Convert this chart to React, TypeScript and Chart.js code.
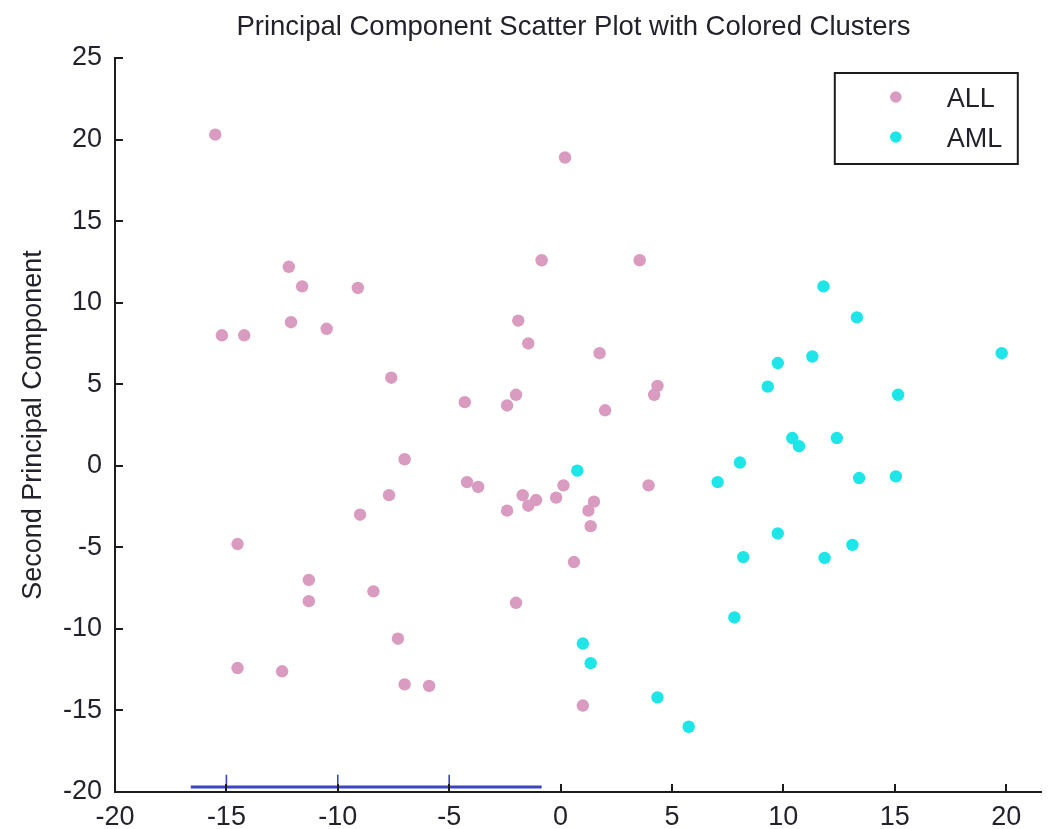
import React, { useEffect, useRef } from "react";
import { Chart, registerables } from "chart.js";

Chart.register(...registerables);

const TITLE = "Principal Component Scatter Plot with Colored Clusters";
const Y_TITLE = "Second Principal Component";
const SERIES_NAMES = ["ALL", "AML"];

const X_TICKS = [-20, -15, -10, -5, 0, 5, 10, 15, 20];
const Y_TICKS = [-20, -15, -10, -5, 0, 5, 10, 15, 20, 25];
const X_MIN = -20;
const X_MAX = 21.6;
const Y_MIN = -20;
const Y_MAX = 25;

const ALL_X = [
  -15.5, -12.2, -11.6, -9.1, -12.1, -10.5, -15.2, -14.2, -7.6, -7.0,
  -7.7, -9.0, -14.5, -11.3, -11.3, -8.4, -7.3, -14.5, -12.5, -7.0,
  -5.9, 0.2, -0.85, 3.55, -1.9, -1.45, 1.75, 4.35, 4.2, -4.3,
  -2.0, -2.4, 2.0, -4.2, -3.7, 3.95, 0.13, -0.2, -1.7, -1.1,
  -1.45, -2.4, 1.5, 1.25, 1.35, 0.6, -2.0, 1.0,
];
const ALL_Y = [
  20.3, 12.2, 11.0, 10.9, 8.8, 8.4, 8.0, 8.0, 5.4, 0.4,
  -1.8, -3.0, -4.8, -7.0, -8.3, -7.7, -10.6, -12.4, -12.6, -13.4,
  -13.5, 18.9, 12.6, 12.6, 8.9, 7.5, 6.9, 4.9, 4.35, 3.9,
  4.35, 3.7, 3.4, -1.0, -1.3, -1.2, -1.2, -1.95, -1.8, -2.1,
  -2.45, -2.75, -2.2, -2.75, -3.7, -5.9, -8.4, -14.7,
];

const AML_X = [
  0.75, 1.0, 1.35, 4.35, 5.75, 11.8, 13.3, 11.3, 9.75, 9.3,
  15.15, 10.4, 10.7, 12.4, 8.05, 7.05, 13.4, 15.05, 9.75, 8.2,
  11.85, 13.1, 7.8, 19.8,
];
const AML_Y = [
  -0.3, -10.9, -12.1, -14.2, -16.0, 11.0, 9.1, 6.7, 6.3, 4.85,
  4.35, 1.7, 1.2, 1.7, 0.2, -1.0, -0.75, -0.65, -4.15, -5.6,
  -5.65, -4.85, -9.3, 6.9,
];

// stray blue underline visible in the source image (data units)
const STROKE_X = [-16.6, -0.85];
const STROKE_Y = -19.7;
const STROKE_TICK_X = [-15, -10, -5];
const STROKE_TICK_TOP = -18.95;

const PINK = "#d99bbf";
const CYAN = "#1ee6e8";
const TEXT = "#22222c";
const AXIS = "#1c1c1c";
const FONT = '"Liberation Sans", Arial, Helvetica, sans-serif';

export default function App() {
  const ref = useRef<HTMLCanvasElement>(null);

  useEffect(() => {
    document.body.style.margin = "0";
    const canvas = ref.current;
    if (!canvas) return;

    const toPts = (xs: number[], ys: number[]) => xs.map((x, i) => ({ x, y: ys[i] }));

    const linePts: any[] = [
      { x: STROKE_X[0], y: STROKE_Y },
      { x: STROKE_X[1], y: STROKE_Y },
    ];
    const tickPts: any[] = [];
    STROKE_TICK_X.forEach((tx) => {
      tickPts.push({ x: tx, y: STROKE_Y });
      tickPts.push({ x: tx, y: STROKE_TICK_TOP });
      tickPts.push({ x: tx, y: null });
    });

    const decor = {
      id: "decor",
      afterDraw(chart: any) {
        const { ctx, chartArea, scales } = chart;
        const xs = scales.x;
        const ys = scales.y;
        ctx.save();
        // inward tick marks
        ctx.strokeStyle = AXIS;
        ctx.lineWidth = 2;
        X_TICKS.forEach((v) => {
          const px = Math.round(xs.getPixelForValue(v));
          ctx.beginPath();
          ctx.moveTo(px, chartArea.bottom);
          ctx.lineTo(px, chartArea.bottom - 8);
          ctx.stroke();
        });
        Y_TICKS.forEach((v) => {
          const py = Math.round(ys.getPixelForValue(v));
          ctx.beginPath();
          ctx.moveTo(chartArea.left, py);
          ctx.lineTo(chartArea.left + 8, py);
          ctx.stroke();
        });

        // title
        ctx.fillStyle = TEXT;
        ctx.font = `27.5px ${FONT}`;
        ctx.textAlign = "center";
        ctx.textBaseline = "alphabetic";
        ctx.fillText(TITLE, (chartArea.left + chartArea.right) / 2 - 5, 35);

        // legend
        const bw = 183;
        const bh = 91;
        const bx = chartArea.right - 24 - bw;
        const by = chartArea.top + 15;
        ctx.fillStyle = "#ffffff";
        ctx.fillRect(bx, by, bw, bh);
        ctx.strokeStyle = AXIS;
        ctx.lineWidth = 2;
        ctx.strokeRect(bx, by, bw, bh);
        const colors = [PINK, CYAN];
        SERIES_NAMES.forEach((name, i) => {
          const cy = by + 24 + i * 40;
          ctx.beginPath();
          ctx.fillStyle = colors[i];
          ctx.arc(bx + 61, cy, 5.8, 0, Math.PI * 2);
          ctx.fill();
          ctx.fillStyle = TEXT;
          ctx.font = `27px ${FONT}`;
          ctx.textAlign = "left";
          ctx.textBaseline = "middle";
          ctx.fillText(name, bx + 112, cy + 3);
        });
        ctx.restore();
      },
    };

    const chart = new Chart(canvas, {
      type: "scatter",
      data: {
        datasets: [
          {
            label: SERIES_NAMES[0],
            data: toPts(ALL_X, ALL_Y),
            backgroundColor: PINK,
            borderWidth: 0,
            pointRadius: 6.2,
            pointHoverRadius: 6.2,
          },
          {
            label: SERIES_NAMES[1],
            data: toPts(AML_X, AML_Y),
            backgroundColor: CYAN,
            borderWidth: 0,
            pointRadius: 6.2,
            pointHoverRadius: 6.2,
          },
          {
            type: "line",
            label: "stroke",
            data: linePts,
            borderColor: "#3b45c0",
            borderWidth: 3,
            pointRadius: 0,
            showLine: true,
            fill: false,
          } as any,
          {
            type: "line",
            label: "stroke ticks",
            data: tickPts,
            borderColor: "#3b45c0",
            borderWidth: 1.6,
            pointRadius: 0,
            showLine: true,
            spanGaps: false,
            fill: false,
          } as any,
        ],
      },
      options: {
        responsive: false,
        animation: false,
        events: [],
        layout: { padding: { top: 58, right: 2, left: 0, bottom: 0 } },
        plugins: {
          legend: { display: false },
          title: { display: false },
          tooltip: { enabled: false },
        },
        scales: {
          x: {
            type: "linear",
            min: X_MIN,
            max: X_MAX,
            grid: { display: false },
            border: { display: true, color: AXIS, width: 2 },
            ticks: {
              color: TEXT,
              font: { family: FONT, size: 27 },
              padding: 1,
              maxRotation: 0,
              autoSkip: false,
            },
            afterBuildTicks: (scale: any) => {
              scale.ticks = X_TICKS.map((v) => ({ value: v }));
            },
            afterFit: (scale: any) => {
              scale.height = 37;
            },
          },
          y: {
            type: "linear",
            min: Y_MIN,
            max: Y_MAX,
            grid: { display: false },
            border: { display: true, color: AXIS, width: 2 },
            ticks: {
              color: TEXT,
              font: { family: FONT, size: 27 },
              padding: 5,
              autoSkip: false,
            },
            afterBuildTicks: (scale: any) => {
              scale.ticks = Y_TICKS.map((v) => ({ value: v }));
            },
            title: {
              display: true,
              text: Y_TITLE,
              color: TEXT,
              font: { family: FONT, size: 27 },
              padding: { top: 17, bottom: 0 },
            },
            afterFit: (scale: any) => {
              scale.width = 115;
            },
          },
        },
      },
      plugins: [decor],
    });

    return () => chart.destroy();
  }, []);

  return (
    <div style={{ width: 1048, height: 829, background: "#ffffff" }}>
      <canvas ref={ref} width={1048} height={829} style={{ display: "block" }} />
    </div>
  );
}
